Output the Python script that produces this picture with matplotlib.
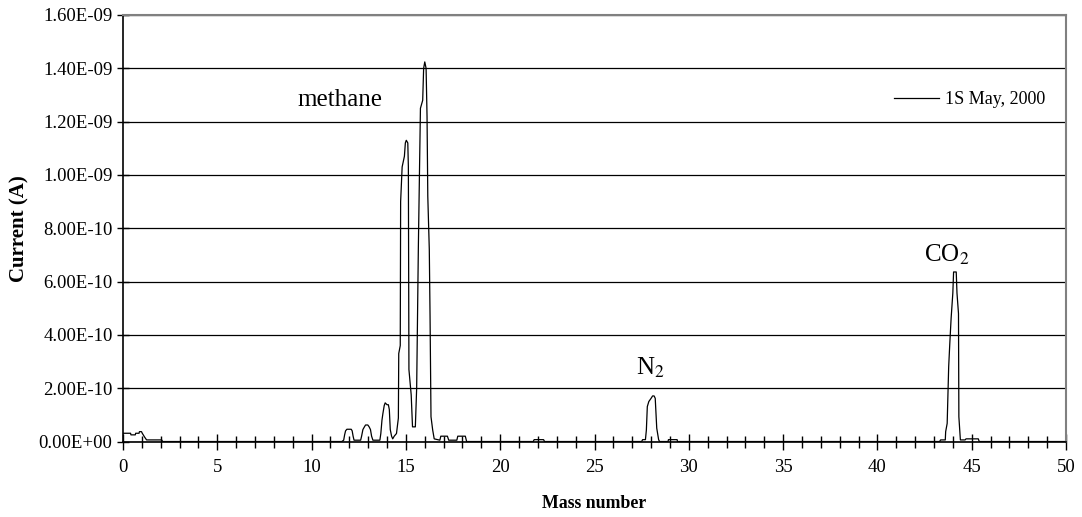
import matplotlib
matplotlib.use('Agg')
import matplotlib.pyplot as plt
from matplotlib.ticker import FuncFormatter, MultipleLocator
import numpy as np

plt.rcParams['font.family'] = ['Liberation Serif', 'DejaVu Serif']
plt.rcParams['mathtext.fontset'] = 'stix'

# mass number and ion current (in units of 1e-10 A)
mass = [0.0, 0.40, 0.42, 0.65, 0.67, 0.85, 0.87, 0.98, 1.02, 1.15, 1.25, 2.05, 2.10,
        11.60, 11.70, 11.75, 11.80, 11.87, 12.10, 12.15, 12.20, 12.25,
        12.60, 12.65, 12.72, 12.80, 12.86, 12.98, 13.05, 13.12, 13.18, 13.25, 13.62,
        13.67, 13.73, 13.78, 13.85, 13.90, 14.00, 14.07, 14.12, 14.17, 14.24, 14.30,
        14.38, 14.50, 14.60,
        14.62, 14.70, 14.72, 14.80, 14.92, 14.97, 15.02, 15.10, 15.13, 15.16, 15.28,
        15.35, 15.50, 15.57, 15.66, 15.77, 15.89, 15.94, 16.00, 16.07, 16.12, 16.16,
        16.24, 16.28, 16.33, 16.42, 16.50,
        16.80, 16.85, 17.20, 17.27, 17.70, 17.75, 18.15, 18.22,
        21.75, 21.80, 22.30, 22.35,
        27.50, 27.55, 27.70, 27.75, 27.80, 27.88, 28.00, 28.08, 28.16, 28.22, 28.30,
        28.40, 28.45, 28.90, 28.92, 29.38, 29.40,
        43.30, 43.35, 43.60, 43.62, 43.70, 43.78, 43.84, 43.91, 44.00, 44.04, 44.18,
        44.22, 44.30, 44.32, 44.40, 44.65, 44.70, 45.35, 45.40, 50.0]
current = [0.31, 0.31, 0.25, 0.25, 0.31, 0.31, 0.37, 0.37, 0.31, 0.16, 0.06, 0.06, 0.0,
           0.0, 0.05, 0.25, 0.40, 0.46, 0.46, 0.40, 0.20, 0.05,
           0.05, 0.20, 0.45, 0.55, 0.62, 0.62, 0.55, 0.45, 0.20, 0.05, 0.05,
           0.30, 0.80, 1.05, 1.35, 1.45, 1.38, 1.38, 1.20, 0.45, 0.20, 0.10,
           0.20, 0.30, 0.88,
           3.30, 3.60, 9.00, 10.3, 10.7, 11.2, 11.3, 11.2, 10.3, 2.70, 1.75,
           0.55, 0.55, 2.00, 7.30, 12.5, 12.8, 14.0, 14.24, 14.0, 12.2, 9.20,
           7.20, 4.70, 0.93, 0.43, 0.10,
           0.05, 0.20, 0.20, 0.05, 0.05, 0.20, 0.20, 0.0,
           0.0, 0.07, 0.07, 0.0,
           0.0, 0.07, 0.07, 0.43, 1.31, 1.50, 1.62, 1.71, 1.71, 1.62, 0.50,
           0.07, 0.0, 0.0, 0.07, 0.07, 0.0,
           0.0, 0.06, 0.06, 0.37, 0.68, 2.81, 3.69, 4.63, 5.57, 6.36, 6.36,
           5.57, 4.80, 0.93, 0.06, 0.06, 0.10, 0.10, 0.0, 0.0]

peak_names = ['methane', 'N$_2$', 'CO$_2$']
peak_x = [11.5, 27.95, 43.7]
peak_y = [12.8, 2.75, 7.0]

y_ticks = [0, 2e-10, 4e-10, 6e-10, 8e-10, 1e-9, 1.2e-9, 1.4e-9, 1.6e-9]

fig = plt.figure(figsize=(10.82, 5.17), dpi=100)
ax = fig.add_axes([0.1137, 0.146, 0.8715, 0.825])

y = np.array(current) * 1e-10
ax.plot(mass, y, color='black', lw=0.9, label='1S May, 2000')

for name, px, py in zip(peak_names, peak_x, peak_y):
    ax.text(px, py * 1e-10, name, fontsize=18, ha='center', va='center')

ax.set_xlim(0, 50)
ax.set_ylim(0, 1.6e-9)
ax.set_yticks(y_ticks)
ax.yaxis.set_major_formatter(FuncFormatter(lambda v, p: f"{v:.2E}"))
ax.xaxis.set_major_locator(MultipleLocator(5))
ax.xaxis.set_minor_locator(MultipleLocator(1))
ax.grid(axis='y', color='black', lw=0.9)
ax.set_axisbelow(True)

ax.tick_params(axis='x', which='major', direction='inout', length=11, width=1, labelsize=13.5, pad=7)
ax.tick_params(axis='x', which='minor', direction='inout', length=8, width=1)
ax.tick_params(axis='y', direction='inout', length=9, width=1, labelsize=13.5, pad=3)

for s in ['left', 'bottom']:
    ax.spines[s].set_color('black')
    ax.spines[s].set_linewidth(1.2)
for s in ['top', 'right']:
    ax.spines[s].set_color('#808080')
    ax.spines[s].set_linewidth(1.5)

ax.set_xlabel('Mass number', fontsize=12.8, fontweight='bold', labelpad=14)
ax.set_ylabel('Current (A)', fontsize=15, fontweight='bold', labelpad=7)

ax.legend(loc='upper right', bbox_to_anchor=(0.995, 0.86), frameon=False,
          fontsize=13, handlelength=2.5, handletextpad=0.3)

fig.savefig('out.png', dpi=100)
